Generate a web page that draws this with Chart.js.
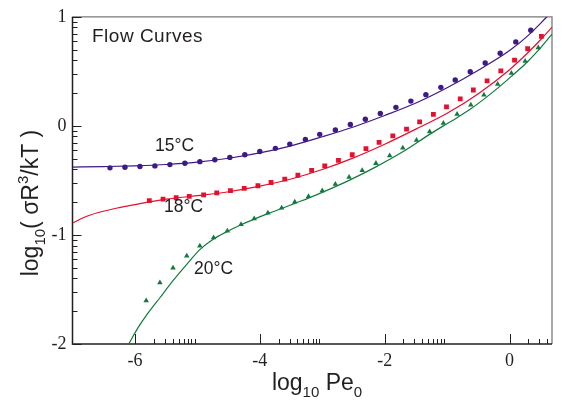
<!DOCTYPE html>
<html><head><meta charset="utf-8">
<script src="https://cdn.jsdelivr.net/npm/chart.js@4/dist/chart.umd.min.js"></script>
<style>html,body{margin:0;padding:0;background:#fff}canvas{display:block}</style>
</head><body>
<canvas id="c" width="563" height="401"></canvas>
<script>
// ---- data (log10 Pe0 , log10 sigma R^3/kT) ----
const seriesLabels = ['15°C', '18°C', '20°C'];

const x15 = [-6.40,-6.16,-5.92,-5.68,-5.44,-5.20,-4.96,-4.72,-4.48,-4.24,-4.00,-3.75,-3.52,-3.27,-3.04,-2.79,-2.55,-2.31,-2.07,-1.82,-1.58,-1.34,-1.10,-0.87,-0.63,-0.39,-0.15,0.10,0.34];
const y15 = [-0.385,-0.379,-0.372,-0.367,-0.355,-0.343,-0.328,-0.310,-0.289,-0.265,-0.235,-0.206,-0.167,-0.125,-0.078,-0.038,0.013,0.060,0.114,0.170,0.227,0.286,0.353,0.421,0.496,0.577,0.666,0.770,0.877];

const x18 = [-5.77,-5.55,-5.34,-5.13,-4.90,-4.69,-4.47,-4.25,-4.03,-3.82,-3.60,-3.39,-3.17,-2.96,-2.74,-2.52,-2.30,-2.09,-1.87,-1.65,-1.44,-1.22,-1.01,-0.79,-0.58,-0.36,-0.14,0.08,0.29,0.51];
const y18 = [-0.686,-0.671,-0.659,-0.647,-0.632,-0.614,-0.594,-0.573,-0.549,-0.519,-0.489,-0.453,-0.408,-0.367,-0.316,-0.265,-0.209,-0.152,-0.092,-0.030,0.036,0.105,0.174,0.248,0.329,0.412,0.505,0.603,0.707,0.821];

const x20 = [-5.82,-5.60,-5.39,-5.17,-4.96,-4.74,-4.52,-4.30,-4.09,-3.87,-3.65,-3.44,-3.22,-3.00,-2.79,-2.57,-2.36,-2.14,-1.92,-1.71,-1.49,-1.28,-1.06,-0.84,-0.62,-0.41,-0.19,0.03,0.25,0.46];
const y20 = [-1.603,-1.438,-1.303,-1.193,-1.101,-1.026,-0.963,-0.904,-0.851,-0.799,-0.752,-0.698,-0.647,-0.594,-0.534,-0.471,-0.408,-0.343,-0.274,-0.202,-0.131,-0.054,0.024,0.107,0.192,0.284,0.382,0.483,0.594,0.716];

// fitted flow curves
const fitX15 = [-7.0,-6.5,-6.0,-5.5,-5.0,-4.5,-4.0,-3.5,-3.0,-2.5,-2.0,-1.5,-1.0,-0.5,0.0,0.3,0.6];
const fitY15 = [-0.378,-0.373,-0.366,-0.354,-0.332,-0.297,-0.248,-0.183,-0.100,-0.010,0.095,0.21,0.35,0.51,0.69,0.83,1.0];

const fitX18 = [-7.0,-6.8,-6.6,-6.3,-6.0,-5.5,-5.0,-4.5,-4.0,-3.5,-3.0,-2.5,-2.0,-1.5,-1.0,-0.5,0.0,0.3,0.5,0.68];
const fitY18 = [-0.891,-0.835,-0.797,-0.755,-0.722,-0.672,-0.640,-0.604,-0.553,-0.487,-0.400,-0.293,-0.168,-0.030,0.115,0.295,0.515,0.675,0.792,0.905];

const fitX20 = [-6.10,-5.95,-5.82,-5.60,-5.39,-5.17,-4.96,-4.74,-4.52,-4.30,-4.09,-3.87,-3.65,-3.44,-3.22,-3.0,-2.57,-2.14,-1.71,-1.28,-1.06,-0.84,-0.62,-0.41,-0.19,0.03,0.25,0.46,0.68];
const fitY20 = [-2.0,-1.85,-1.74,-1.576,-1.42,-1.27,-1.135,-1.038,-0.968,-0.907,-0.855,-0.805,-0.758,-0.711,-0.662,-0.61,-0.50,-0.376,-0.238,-0.078,0.0,0.075,0.156,0.245,0.346,0.454,0.567,0.693,0.842];

// axes
const xMajorTicks = [-6, -4, -2, 0];
const yMajorTicks = [-2, -1, 0, 1];
const minorFactors = [2, 3, 4, 5, 6, 7, 8, 9];
const xRange = [-7, 0.68];
const yRange = [-2, 1];

// ---- styling ----
const C15 = '#3d1a87', C18 = '#e3102e', C20 = '#127a3e';
const INK = '#231f20';
const SERIF = "'Liberation Serif', 'Times New Roman', Times, serif";
const SANS = "'Liberation Sans', Arial, Helvetica, sans-serif";
const pts = (xs, ys) => xs.map((x, i) => ({x, y: ys[i]}));

const decor = {
  id: 'decor',
  beforeDatasetsDraw(chart) {
    const {ctx, chartArea: a, scales: {x, y}} = chart;
    ctx.save();
    ctx.lineWidth = 1.3;
    ctx.strokeStyle = '#7a7a7a';
    ctx.beginPath();
    ctx.moveTo(a.left, a.top); ctx.lineTo(a.right, a.top); ctx.lineTo(a.right, a.bottom);
    ctx.stroke();
    ctx.strokeStyle = INK;
    ctx.lineWidth = 1.5;
    ctx.beginPath();
    ctx.moveTo(a.left, a.top); ctx.lineTo(a.left, a.bottom); ctx.lineTo(a.right, a.bottom);
    ctx.stroke();
    ctx.lineWidth = 1;
    ctx.beginPath();
    xMajorTicks.forEach(m => {
      const px = Math.round(x.getPixelForValue(m)) + 0.5;
      ctx.moveTo(px, a.bottom); ctx.lineTo(px, a.bottom - 10);
      minorFactors.forEach(k => {
        const v = m + Math.log10(k);
        if (v <= xRange[1]) {
          const p = Math.round(x.getPixelForValue(v)) + 0.5;
          ctx.moveTo(p, a.bottom); ctx.lineTo(p, a.bottom - 5);
        }
      });
    });
    yMajorTicks.forEach(m => {
      const py = Math.round(y.getPixelForValue(m)) + 0.5;
      ctx.moveTo(a.left, py); ctx.lineTo(a.left + 9, py);
      minorFactors.forEach(k => {
        const v = m + Math.log10(k);
        if (v <= yRange[1]) {
          const p = Math.round(y.getPixelForValue(v)) + 0.5;
          ctx.moveTo(a.left, p); ctx.lineTo(a.left + 5, p);
        }
      });
    });
    ctx.stroke();
    ctx.restore();
  },
  afterDraw(chart) {
    const {ctx} = chart;
    ctx.save();
    ctx.fillStyle = INK;
    ctx.textBaseline = 'alphabetic';
    ctx.textAlign = 'left';
    ctx.font = '19px ' + SANS;
    try { ctx.letterSpacing = '0.5px'; } catch (e) {}
    ctx.fillText('Flow Curves', 92, 41.5);
    try { ctx.letterSpacing = '0px'; } catch (e) {}
    ctx.font = '17.5px ' + SANS;
    ctx.fillText(seriesLabels[0], 155, 150.5);
    ctx.fillText(seriesLabels[1], 164, 211.5);
    ctx.fillText(seriesLabels[2], 194, 273.5);

    const rich = (parts, big, small) => {
      const segs = parts.map(p => {
        const f = (p.s ? small : big) + 'px ' + SANS;
        ctx.font = f;
        return {t: p.t, f, w: ctx.measureText(p.t).width, dy: p.s === 'sub' ? big * 0.32 : p.s === 'sup' ? -big * 0.42 : 0};
      });
      return {segs, w: segs.reduce((s, g) => s + g.w, 0)};
    };
    const drawRich = (r, x0, y0) => {
      let cx = x0;
      r.segs.forEach(g => { ctx.font = g.f; ctx.fillText(g.t, cx, y0 + g.dy); cx += g.w; });
    };
    const xt = rich([{t: 'log'}, {t: '10', s: 'sub'}, {t: ' Pe'}, {t: '0', s: 'sub'}], 23, 15);
    drawRich(xt, 317 - xt.w / 2, 390);
    const yt = rich([{t: 'log'}, {t: '10', s: 'sub'}, {t: '( σR'}, {t: '3', s: 'sup'}, {t: '/kT )'}], 23, 15);
    ctx.translate(38, 203);
    ctx.rotate(-Math.PI / 2);
    drawRich(yt, -yt.w / 2, 0);
    ctx.restore();
  }
};

new Chart(document.getElementById('c'), {
  type: 'scatter',
  data: {
    datasets: [
      {label: seriesLabels[0], data: pts(x15, y15), pointStyle: 'circle', pointRadius: 2.7, backgroundColor: C15, borderColor: C15, borderWidth: 0},
      {label: seriesLabels[1], data: pts(x18, y18), pointStyle: 'rect', pointRadius: 3.4, backgroundColor: C18, borderColor: C18, borderWidth: 0},
      {label: seriesLabels[2], data: pts(x20, y20), pointStyle: 'triangle', pointRadius: 3.2, backgroundColor: C20, borderColor: C20, borderWidth: 0},
      {label: 'fit 15', data: pts(fitX15, fitY15), showLine: true, pointRadius: 0, borderColor: C15, borderWidth: 1.2, cubicInterpolationMode: 'monotone'},
      {label: 'fit 18', data: pts(fitX18, fitY18), showLine: true, pointRadius: 0, borderColor: C18, borderWidth: 1.2, cubicInterpolationMode: 'monotone'},
      {label: 'fit 20', data: pts(fitX20, fitY20), showLine: true, pointRadius: 0, borderColor: C20, borderWidth: 1.2, cubicInterpolationMode: 'monotone'}
    ]
  },
  options: {
    responsive: false,
    animation: false,
    devicePixelRatio: 1,
    layout: {padding: {left: 0, top: 9, right: 11, bottom: 0}},
    plugins: {legend: {display: false}, tooltip: {enabled: false}},
    scales: {
      x: {
        type: 'linear', min: xRange[0], max: xRange[1],
        grid: {display: false, drawTicks: false}, border: {display: false},
        afterBuildTicks: s => { s.ticks = xMajorTicks.map(v => ({value: v})); },
        afterFit: s => { s.height = 57; },
        ticks: {padding: 6, color: INK, font: {family: SERIF, size: 18}, callback: v => String(v), maxRotation: 0, autoSkip: false}
      },
      y: {
        type: 'linear', min: yRange[0], max: yRange[1],
        grid: {display: false, drawTicks: false}, border: {display: false},
        afterBuildTicks: s => { s.ticks = yMajorTicks.map(v => ({value: v})); },
        afterFit: s => { s.width = 72.5; },
        ticks: {padding: 6, color: INK, font: {family: SERIF, size: 18}, callback: v => String(v), autoSkip: false}
      }
    }
  },
  plugins: [decor]
});
</script>
</body></html>
